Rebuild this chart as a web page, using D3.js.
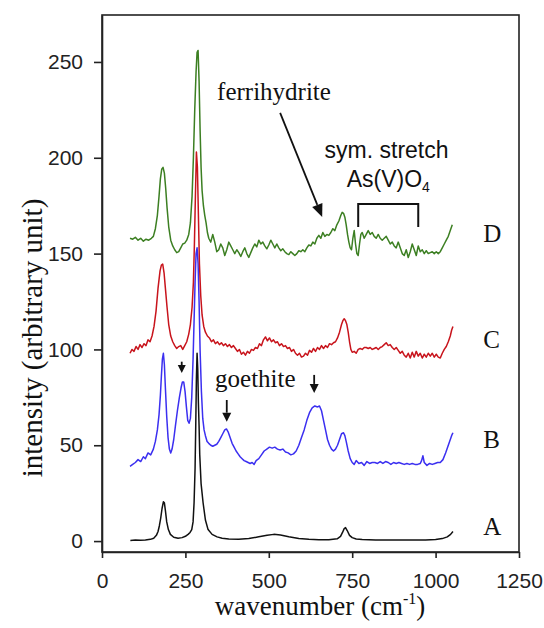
<!DOCTYPE html>
<html>
<head>
<meta charset="utf-8">
<script src="https://cdn.jsdelivr.net/npm/d3@7"></script>
<style>
  body { margin: 0; background: #fff; }
  svg { display: block; }
  .tick text { font-family: "Liberation Sans", Arial, sans-serif; font-size: 21px; fill: #222; }
  .serif { font-family: "Liberation Serif", "Times New Roman", serif; fill: #111; }
  .sans { font-family: "Liberation Sans", Arial, sans-serif; fill: #111; }
</style>
</head>
<body>
<svg width="544" height="628"></svg>
<script>
// spectrum A (black)
const wnA = [85,100,115,130,145,155,163,168,172,176,180,184,187,190,194,199,205,215,228,240,250,258,264,269,273,276,279,281,283,285,287,289,291,293,297,303,310,318,330,345,360,380,410,440,470,495,515,535,560,590,620,650,680,705,715,721,726,730,735,742,750,762,780,820,870,920,970,1000,1020,1035,1045,1052];
const intA = [0.3,0.5,0.4,0.6,0.9,1.5,3,5,8,12,17,20.5,20,16,10,6,3.5,2,1.5,1.8,2.5,3.5,4.5,6,10,20,38,60,85,98,90,72,60,45,30,20,11,6,3.5,2.2,1.5,1.1,1,1.3,2.2,3,3.5,3.2,2.3,1.4,0.9,0.7,0.7,1.2,2.5,4.5,6.5,7,5.5,3,1.8,1.1,0.8,0.6,0.5,0.6,0.5,0.8,1.3,2.2,3.5,5];

// spectrum B (blue)
const wnB = [84,92,100,108,116,124,130,138,146,154,160,166,171,175,178,181,184,187,190,194,198,202,206,210,215,220,226,232,237,241,245,249,253,257,261,265,269,273,276,279,282,285,288,291,294,298,302,306,310,315,320,326,332,338,344,350,356,362,368,373,378,384,390,396,402,408,414,420,426,432,438,444,450,456,462,470,478,486,494,502,510,518,526,534,542,550,558,566,574,582,590,598,606,614,622,630,638,646,652,658,664,670,676,682,688,694,700,706,712,718,724,728,732,738,744,750,756,762,770,778,786,794,802,810,818,826,834,842,850,858,866,874,882,890,898,906,914,922,930,938,946,954,958,962,966,974,982,990,998,1006,1014,1022,1030,1036,1042,1048,1052];
const intB = [39,40,41,42.5,41.5,44,43,46,45,48,52,58,66,76,86,95,98,92,80,65,54,48,46,48,53,60,68,75,80,83,83,78,70,63,61.5,64,75,95,115,135,150,153,145,125,100,78,64,58,55,52,51,50,49.5,50,50.5,52,54,56,58,58.5,57,54,51,49,47,45.5,44,43,42,41.5,41,40.5,41,40,42,43,45,47,48,49,48.5,49,48,47.5,48,46.5,46,45,45.5,47,50,54,58,63,67,69.5,70.5,70,70.5,68,63,58,53,50,48,47,48,50,53,56,56.5,55,52,47,43,41,40,42,40.5,41,39.5,41.5,40.5,41,41,40.5,41.5,40.5,41.5,41,40,41,40.5,41,40.5,40,40.5,40,40.5,40,40,40.5,42,44.5,41,39.5,40.5,40,40.5,41,41,42.5,46,49,52,55,56.5];

// spectrum C (red)
const wnC = [84,90,96,102,108,114,120,126,132,138,144,150,156,162,168,174,178,182,186,190,195,200,206,212,218,224,230,236,242,248,254,260,265,270,274,277,280,283,286,289,292,296,300,305,310,316,322,328,334,340,346,352,358,364,370,376,382,388,394,400,406,412,418,424,430,436,442,448,454,460,466,472,478,484,490,496,502,508,514,520,526,532,538,544,550,556,562,568,574,580,586,592,598,604,610,616,622,628,634,640,646,652,658,664,670,676,682,688,694,700,706,712,718,722,726,730,734,738,742,746,750,756,762,768,774,780,786,792,798,804,810,816,822,828,834,840,846,852,858,864,870,876,882,888,894,900,906,912,918,924,930,936,942,948,954,960,966,972,978,984,990,996,1002,1008,1014,1020,1026,1032,1038,1044,1048,1052];
const intC = [98,100,99,101.5,100,102.5,101,103,102,105,104,107,112,120,132,141,144,144.5,140,132,122,113,107,104,102,100.5,101.5,102,100,102,104,108,113,122,135,155,180,203,195,170,145,128,118,112,109,107,106,104,105,103,104,102.5,103.5,102,103,101.5,102.5,101,102,100.5,99,100,97.5,98.5,97,99,98,100,99.5,101,100.5,103,102,105,106.5,104.5,106,104,105,103.5,104,102,103,101.5,102,100.5,101,99,100,98,97,98,96,96.5,98,97,99.5,98.5,100.5,99,101,100,102,100.5,102,101,103,102.5,103.5,104,106,109,113,115,116,115,113,109,104,100,98.5,99,98,100,100.5,100,101,101,100.5,101,100,100.5,101,100,101,101.5,102.5,103.5,102,102.5,101,100,101,99.5,98,99,97,96,98,95.5,98.5,96,99,96.5,98,95.5,97.5,96,98,96.5,98,96,97.5,96,95.5,98,100,101.5,104,107,110,112];

// spectrum D (green)
const wnD = [84,92,100,108,116,124,132,140,148,154,160,166,171,175,179,183,187,191,195,200,206,212,218,224,230,236,242,248,254,260,265,270,274,278,282,285,288,291,294,297,300,304,308,312,316,320,326,332,338,344,350,356,362,368,374,380,386,392,398,404,410,416,422,428,434,440,446,452,458,464,470,476,482,488,494,500,506,512,518,524,530,536,542,548,554,560,566,572,578,584,590,596,602,608,614,620,626,632,638,644,650,656,662,668,674,680,686,692,698,704,710,716,720,724,728,732,736,740,744,748,752,756,760,764,768,772,776,780,786,792,798,804,810,816,822,828,834,840,846,852,858,864,870,876,882,888,894,900,906,912,918,924,930,936,942,948,954,960,966,972,978,984,990,996,1002,1008,1014,1020,1026,1032,1038,1044,1050];
const intD = [158,157.5,158.5,157,158,156.5,157.5,157,158,159,163,170,180,189,194,195,192,184,174,164,157,154,152,150.5,151,153,155,155.5,157,160,166,180,200,225,245,255,256,240,215,195,183,175,170,166,161,158,156,160,156,151,152,155,153,149,152,156,154,152,150,152,150.5,148.5,151,153,150,148,150.5,153,155,153.5,157,155,156,154,152.5,154.5,157,155,153,155,153,151.5,152.5,151,150,149.5,151,150,149,150,151.5,151,152,151,153,154.5,154,156,155,158,159.5,158,161,159,160,159.5,161,163,162,165,167,170,171.5,171,169,165,160,156,153,152,158,162,155,150,149,155,160,161,158,160,162,160,161,159,158,160,158,157,158,159,157,155,156,154,153,156,153,150,149,152,148,151,155,152,149,154,151,152,150,151.5,150,150.5,151,150,151,150,151,153,155,157,159,162,165];

const xTicks = [0, 250, 500, 750, 1000, 1250];
const yTicks = [0, 50, 100, 150, 200, 250];
const seriesNames = ["A", "B", "C", "D"];
const seriesColors = ["#111111", "#3b2ff0", "#c8141c", "#3c7f22"];

const svg = d3.select("svg");

const x = d3.scaleLinear().domain([0, 1250]).range([102, 519]);
const y = d3.scaleLinear().domain([-5.7, 274.5]).range([552, 15]);

// frame
svg.append("rect")
    .attr("x", x(0)).attr("y", y(274.5))
    .attr("width", x(1250) - x(0)).attr("height", y(-5.7) - y(274.5))
    .attr("fill", "none").attr("stroke", "#222").attr("stroke-width", 1.6);

const xAxis = svg.append("g")
    .attr("transform", `translate(0,${y(-5.7)})`)
    .call(d3.axisBottom(x).tickValues(xTicks).tickFormat(d3.format("d"))
        .tickSize(6).tickPadding(15).tickSizeOuter(0));
const yAxis = svg.append("g")
    .attr("transform", `translate(${x(0)},0)`)
    .call(d3.axisLeft(y).tickValues(yTicks).tickFormat(d3.format("d"))
        .tickSize(8).tickPadding(11).tickSizeOuter(0));
[xAxis, yAxis].forEach(g => {
    g.select(".domain").attr("stroke", "#222").attr("stroke-width", 1.6);
    g.selectAll(".tick line").attr("stroke", "#222").attr("stroke-width", 1.6);
});

const line = d3.line().x(d => x(d[0])).y(d => y(d[1]));
const spectra = [
    d3.zip(wnA, intA),
    d3.zip(wnB, intB),
    d3.zip(wnC, intC),
    d3.zip(wnD, intD)
];

svg.selectAll(".spectrum")
    .data(spectra)
    .enter().append("path")
    .attr("class", "spectrum")
    .attr("d", line)
    .attr("fill", "none")
    .attr("stroke", (d, i) => seriesColors[i])
    .attr("stroke-width", 1.5)
    .attr("stroke-linejoin", "round");

// series letters
const letterY = [3.2, 48.6, 100.7, 156.2];
svg.selectAll(".letter")
    .data(seriesNames)
    .enter().append("text")
    .attr("class", "serif")
    .attr("x", x(1143))
    .attr("y", (d, i) => y(letterY[i]))
    .attr("font-size", 25)
    .text(d => d);

// axis titles
svg.append("text")
    .attr("class", "serif")
    .attr("x", 320).attr("y", 615)
    .attr("text-anchor", "middle")
    .attr("font-size", 27)
    .call(t => {
        t.append("tspan").text("wavenumber (cm");
        t.append("tspan").attr("font-size", 16).attr("dy", -11).text("-1");
        t.append("tspan").attr("dy", 11).text(")");
    });

svg.append("text")
    .attr("class", "serif")
    .attr("transform", "translate(42,338) rotate(-90)")
    .attr("text-anchor", "middle")
    .attr("font-size", 29)
    .text("intensity (arbitrary unit)");

// annotations
function arrow(x1, y1, x2, y2, len, w) {
    const a = Math.atan2(y2 - y1, x2 - x1);
    const bx = x2 - len * Math.cos(a), by = y2 - len * Math.sin(a);
    const nx = -Math.sin(a) * w / 2, ny = Math.cos(a) * w / 2;
    svg.append("line")
        .attr("x1", x1).attr("y1", y1).attr("x2", bx).attr("y2", by)
        .attr("stroke", "#111").attr("stroke-width", 1.8);
    svg.append("path")
        .attr("d", `M${x2},${y2}L${bx + nx},${by + ny}L${bx - nx},${by - ny}Z`)
        .attr("fill", "#111");
}

svg.append("text").attr("class", "serif")
    .attr("x", x(345)).attr("y", y(230.2))
    .attr("font-size", 25).text("ferrihydrite");
arrow(x(534), y(223.4), x(660), y(169.1), 13, 11);

svg.append("text").attr("class", "sans")
    .attr("x", x(853)).attr("y", y(199.9))
    .attr("text-anchor", "middle")
    .attr("font-size", 23).text("sym. stretch");
svg.append("text").attr("class", "sans")
    .attr("x", x(858)).attr("y", y(185))
    .attr("text-anchor", "middle")
    .attr("font-size", 23)
    .call(t => {
        t.append("tspan").text("As(V)O");
        t.append("tspan").attr("font-size", 14).attr("dy", 5).text("4");
    });
svg.append("path")
    .attr("d", `M${x(768)},${y(163.9)}V${y(175.9)}H${x(948)}V${y(163.9)}`)
    .attr("fill", "none").attr("stroke", "#111").attr("stroke-width", 2);

svg.append("text").attr("class", "serif")
    .attr("x", x(339)).attr("y", y(80.4))
    .attr("font-size", 25).text("goethite");
arrow(x(239), y(93.6), x(239), y(87.7), 8, 8);
arrow(x(374), y(73.6), x(374), y(62.3), 9, 9);
arrow(x(636), y(86.7), x(636), y(77.3), 9, 9);
</script>
</body>
</html>
